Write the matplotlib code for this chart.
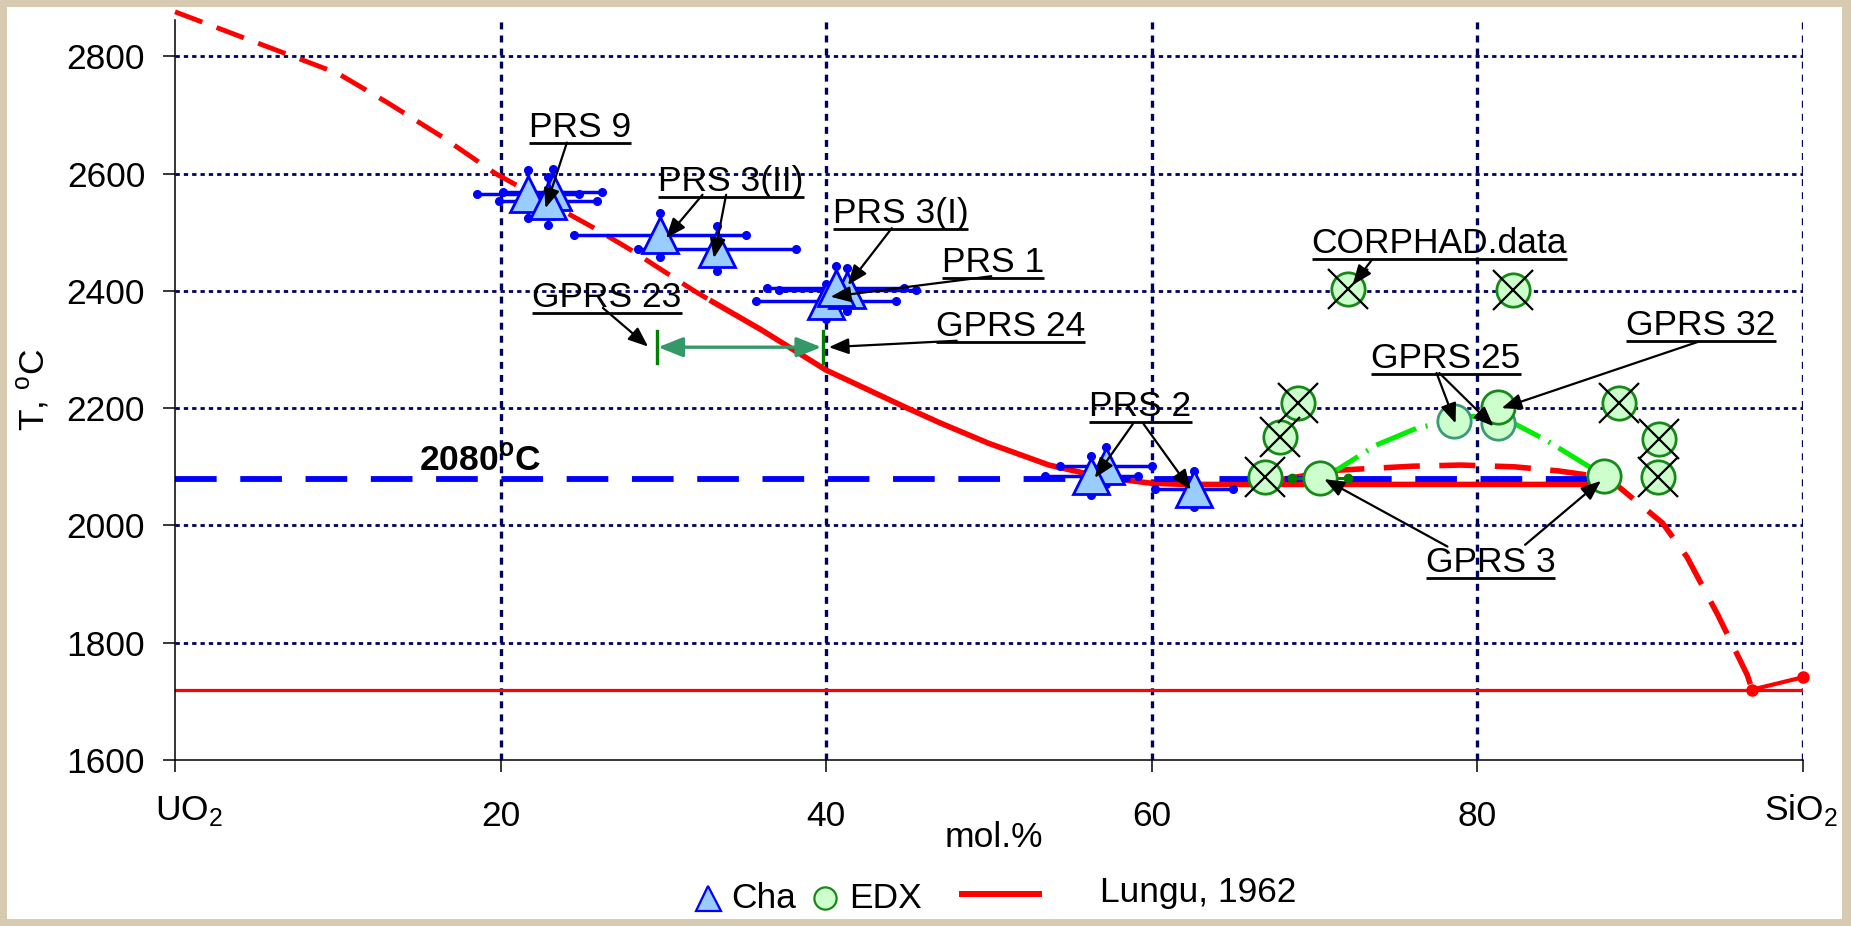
import numpy as np
import matplotlib
matplotlib.use("Agg")
import matplotlib.pyplot as plt
from matplotlib.lines import Line2D
from matplotlib.patches import Rectangle

plt.rcParams['font.family'] = ['Liberation Sans', 'DejaVu Sans']
plt.rcParams['mathtext.fontset'] = 'custom'
plt.rcParams['mathtext.rm'] = 'Liberation Sans'
plt.rcParams['mathtext.bf'] = 'Liberation Sans:bold'
plt.rcParams['lines.scale_dashes'] = False

# ---------------- data ----------------
# x: mol.% SiO2, y: temperature, deg C
x_ticks = [0, 20, 40, 60, 80, 100]
x_ticklabels = ['', '20', '40', '60', '80', '']
y_ticks = [1600, 1800, 2000, 2200, 2400, 2600, 2800]

# Lungu, 1962 phase diagram lines
lungu_liq_dash_x = [0, 10, 13, 16.4, 19.7, 25.7, 28, 31.9, 33]
lungu_liq_dash_y = [2876, 2771, 2722, 2663, 2600, 2508, 2470, 2400, 2382]
lungu_liq_x = [33, 36, 40, 45, 47, 50, 53.7, 57, 60, 62, 87.8]
lungu_liq_y = [2382, 2334, 2265, 2200, 2175, 2140, 2103, 2082, 2072, 2070, 2070]
lungu_gap_x = [67.5, 71.3, 76.0, 79.0, 82.3, 85.0, 87.8]
lungu_gap_y = [2076, 2094, 2101, 2103, 2100, 2093, 2082]
lungu_sio2_x = [87.8, 88.7, 91.4, 92.9, 94.8, 96.6, 96.9]
lungu_sio2_y = [2082, 2066, 2004, 1946, 1847, 1745, 1720]
lungu_cris_x = [96.9, 100]
lungu_cris_y = [1720, 1741]
lungu_solidus_x = [0, 100]
lungu_solidus_y = [1720, 1720]

# monotectic temperature
t_mono = 2080
t_mono_x = [0, 87]

# Cha: triangles with error bars
cha_x = [23.2, 21.7, 22.9, 29.8, 33.3, 40.0, 41.3, 40.6, 57.2, 56.3, 62.6]
cha_y = [2568, 2566, 2554, 2495, 2472, 2382, 2402, 2405, 2102, 2085, 2062]
cha_xerr = [3.05, 3.15, 3.0, 5.3, 4.85, 4.3, 4.2, 4.2, 2.8, 2.85, 2.4]
cha_yerr = [40, 41, 41, 38, 38, 30, 37, 37, 32, 33, 31]

# EDX: circles
edx_x = [70.35, 87.8, 78.6, 81.3, 81.3]
edx_y = [2081, 2084, 2178, 2174, 2202]
edx_xerr = [1.75, 0.65, 0, 0, 0]
edx_edge = ['#168a16', '#168a16', '#3d9a78', '#3d9a78', '#168a16']

# CORPHAD data: crossed circles
corphad_x = [72.1, 82.2, 69.0, 67.9, 67.0, 88.7, 91.2, 91.1]
corphad_y = [2403, 2401, 2209, 2151, 2082, 2208, 2147, 2083]

# EDX liquidus guide (dash-dot)
edx_curve_x = [70.4, 71.4, 72.6, 73.8, 76.3, 78.6, 79.7, 81.3, 82.4, 84.2, 86.9, 87.8]
edx_curve_y = [2081, 2095, 2116, 2137, 2166, 2180, 2186, 2181, 2172, 2146, 2100, 2084]

# GPRS 23 / GPRS 24 range
gprs_range_x = [29.6, 39.8]
gprs_range_y = 2304
gprs_range_half = 27

# annotation labels: text, (left, baseline), [(arrow start, arrow end), ...]
labels = [
    ("PRS 9", (21.74, 2663), [((24.08, 2653), (22.76, 2541))]),
    ("PRS 3(II)", (29.7, 2570), [((32.41, 2564), (30.17, 2490)),
                                 ((33.86, 2564), (33.11, 2456))]),
    ("PRS 3(I)", (40.4, 2516), [((44.04, 2507), (41.34, 2410))]),
    ("PRS 1", (47.1, 2433), [((50.15, 2425), (40.28, 2390))]),
    ("GPRS 23", (21.95, 2373), [((26.29, 2371), (29.07, 2305))]),
    ("GPRS 24", (46.74, 2323), [((48.03, 2315), (40.17, 2304))]),
    ("CORPHAD.data", (69.84, 2464.5), [((73.51, 2452), (72.35, 2410))]),
    ("GPRS 32", (89.18, 2325), [((93.67, 2314), (81.51, 2200))]),
    ("GPRS 25", (73.51, 2268), [((77.51, 2260), (78.68, 2174)),
                                ((77.68, 2260), (81.01, 2169))]),
    ("PRS 2", (56.18, 2186), [((58.85, 2173), (56.51, 2081)),
                              ((59.51, 2173), (62.41, 2061))]),
    ("GPRS 3", (76.84, 1921), [((78.18, 1964), (70.61, 2079)),
                               ((82.95, 1967), (87.61, 2076))]),
]

# ---------------- figure ----------------
W, H = 1851, 926
FS = 25.5
RED = '#ff0000'
BLUE = '#0000ff'
NAVY = '#000060'

fig = plt.figure(figsize=(W / 100, H / 100), dpi=100)
fig.patch.set_facecolor('#d6cbb0')
fig.add_artist(Rectangle((7 / W, 1 - 919 / H), (1842 - 7) / W, (919 - 7) / H,
                         transform=fig.transFigure, facecolor='white',
                         edgecolor='none', zorder=0))

ax = fig.add_axes([175 / W, 1 - 760 / H, (1802.6 - 175) / W, 740 / H])
ax.set_xlim(0, 100)
ax.set_ylim(1600, 2862)
for s in ('top', 'right'):
    ax.spines[s].set_visible(False)
for s in ('left', 'bottom'):
    ax.spines[s].set_linewidth(1.1)
    ax.spines[s].set_color('black')

ax.set_xticks(x_ticks)
ax.set_xticklabels(x_ticklabels)
ax.set_yticks(y_ticks)
ax.tick_params(axis='both', direction='out', length=8.5, width=1.1,
               labelsize=FS, colors='black')
ax.tick_params(axis='x', pad=20)
ax.tick_params(axis='y', pad=13)

# grid
for yv in y_ticks[1:]:
    ax.axhline(yv, color=NAVY, lw=2.0, dashes=(3.1, 2.9), zorder=1)
for xv in x_ticks[1:]:
    ax.axvline(xv, color=NAVY, lw=2.4, dashes=(5, 4.4), zorder=1)

# Lungu lines
ax.plot(lungu_solidus_x, lungu_solidus_y, color=RED, lw=2.3,
        solid_capstyle='round', zorder=2)
ax.plot(lungu_liq_dash_x, lungu_liq_dash_y, color=RED, lw=3.5,
        dashes=(21, 11), zorder=2, clip_on=False)
ax.plot(lungu_liq_x, lungu_liq_y, color=RED, lw=4.0, zorder=2)
ax.plot(lungu_gap_x, lungu_gap_y, color=RED, lw=4.0, dashes=(26, 14), zorder=2)
ax.plot(lungu_sio2_x, lungu_sio2_y, color=RED, lw=4.0, dashes=(26, 14), zorder=2)
ax.plot(lungu_cris_x, lungu_cris_y, color=RED, lw=3.0, marker='o', ms=8,
        zorder=2, clip_on=False)

# monotectic line
ax.plot(t_mono_x, [t_mono, t_mono], color=BLUE, lw=4.2, dashes=(30, 17), zorder=2)
ax.text(15.0, 2094.8, r"2080$^{\mathregular{o}}$C", fontsize=FS, fontweight='bold',
        ha='left', va='baseline', zorder=9)

# EDX guide curve
ax.plot(edx_curve_x, edx_curve_y, color='#00ee00', lw=3.6,
        dashes=(31, 7, 1.5, 7), zorder=3)

# Cha error bars with dot ends
cx, cy = np.array(cha_x), np.array(cha_y)
cxe, cye = np.array(cha_xerr), np.array(cha_yerr)
ax.errorbar(cx, cy, xerr=cxe, yerr=cye, fmt='none', ecolor=BLUE,
            elinewidth=2.5, capsize=0, zorder=4)
ax.plot(np.r_[cx - cxe, cx + cxe, cx, cx], np.r_[cy, cy, cy - cye, cy + cye],
        'o', ms=5.5, color=BLUE, ls='none', zorder=4)
ax.plot(cx, cy, '^', ms=26, mfc='#99ccff', mec=BLUE, mew=2.0, ls='none', zorder=5)

# EDX points
ex, ey, exe = np.array(edx_x), np.array(edx_y), np.array(edx_xerr)
has_err = exe > 0
ax.errorbar(ex[has_err], ey[has_err], xerr=exe[has_err], fmt='none',
            ecolor='#007a00', elinewidth=2.2, capsize=0, zorder=5)
ax.plot(np.r_[ex[has_err] - exe[has_err], ex[has_err] + exe[has_err]],
        np.r_[ey[has_err], ey[has_err]], 'o', ms=6, color='#007a00',
        ls='none', zorder=5)
for xi, yi, ec in zip(edx_x, edx_y, edx_edge):
    ax.plot(xi, yi, 'o', ms=24, mfc='#ccffcc', mec=ec, mew=2.0, zorder=6)
ax.plot(corphad_x, corphad_y, 'o', ms=24, mfc='#ccffcc', mec='#168a16',
        mew=2.0, ls='none', zorder=6)
ax.plot(corphad_x, corphad_y, 'x', ms=29, mec='black', mew=1.6, ls='none',
        zorder=7)

# GPRS 23 - GPRS 24 range
for xv in gprs_range_x:
    ax.plot([xv, xv], [gprs_range_y - gprs_range_half, gprs_range_y + gprs_range_half],
            color='#008000', lw=2.4, zorder=6)
ax.annotate('', xy=(gprs_range_x[1], gprs_range_y), xytext=(gprs_range_x[0], gprs_range_y),
            arrowprops=dict(arrowstyle='<|-|>,head_length=0.75,head_width=0.3',
                            color='#339966', lw=2.4, shrinkA=1, shrinkB=1,
                            mutation_scale=20), zorder=6)

# labels with underlines and arrows
texts = []
for txt, pos, arrows in labels:
    t = ax.text(pos[0], pos[1], txt, fontsize=FS, ha='left', va='baseline', zorder=9)
    texts.append(t)
    for start, end in arrows:
        ax.annotate('', xy=end, xytext=start,
                    arrowprops=dict(arrowstyle='-|>,head_length=0.75,head_width=0.3',
                                    color='black', lw=1.6, shrinkA=0, shrinkB=0,
                                    mutation_scale=16), zorder=8)

# axis labels
ax.set_ylabel(r"T, $^{\mathregular{o}}$C", fontsize=FS)
ax.yaxis.set_label_coords(-0.076, 0.5)
ax.set_xlabel("mol.%", fontsize=FS)
ax.xaxis.set_label_coords(0.503, -0.083)

xt = ax.get_xaxis_transform()
ax.text(-1.23, -0.081, r"UO$_{\mathregular{2}}$", transform=xt, fontsize=FS,
        ha='left', va='baseline')
ax.text(97.6, -0.081, r"SiO$_{\mathregular{2}}$", transform=xt, fontsize=FS,
        ha='left', va='baseline', clip_on=False)

# legend
def fpx(x, y):
    return x / W, 1 - y / H

fig.add_artist(Line2D(*zip(fpx(707.5, 898.4)), marker='^', ms=18, mfc='#99ccff',
                      mec=BLUE, mew=1.6, ls='none', transform=fig.transFigure))
fig.text(*fpx(731, 908), "Cha", fontsize=FS, ha='left', va='baseline')
fig.add_artist(Line2D(*zip(fpx(824.5, 898)), marker='o', ms=16, mfc='#ccffcc',
                      mec='#168a16', mew=1.6, ls='none', transform=fig.transFigure))
fig.text(*fpx(849.4, 908), "EDX", fontsize=FS, ha='left', va='baseline')
p0, p1 = fpx(958.8, 893.7), fpx(1042.4, 893.7)
fig.add_artist(Line2D([p0[0], p1[0]], [p0[1], p1[1]], color=RED, lw=4.3,
                      solid_capstyle='butt', transform=fig.transFigure))
fig.text(*fpx(1100.4, 901.7), "Lungu, 1962", fontsize=FS, ha='left', va='baseline')

# underline annotation texts
fig.canvas.draw()
renderer = fig.canvas.get_renderer()
inv = ax.transData.inverted()
for t in texts:
    bb = t.get_window_extent(renderer)
    bx, by = ax.transData.transform(t.get_position())
    pts = inv.transform([[bb.x0, by - 6], [bb.x1, by - 6]])
    ax.plot(pts[:, 0], pts[:, 1], color='black', lw=2.0, solid_capstyle='butt',
            clip_on=False, zorder=9)

fig.savefig('out.png', dpi=100, facecolor=fig.get_facecolor())
